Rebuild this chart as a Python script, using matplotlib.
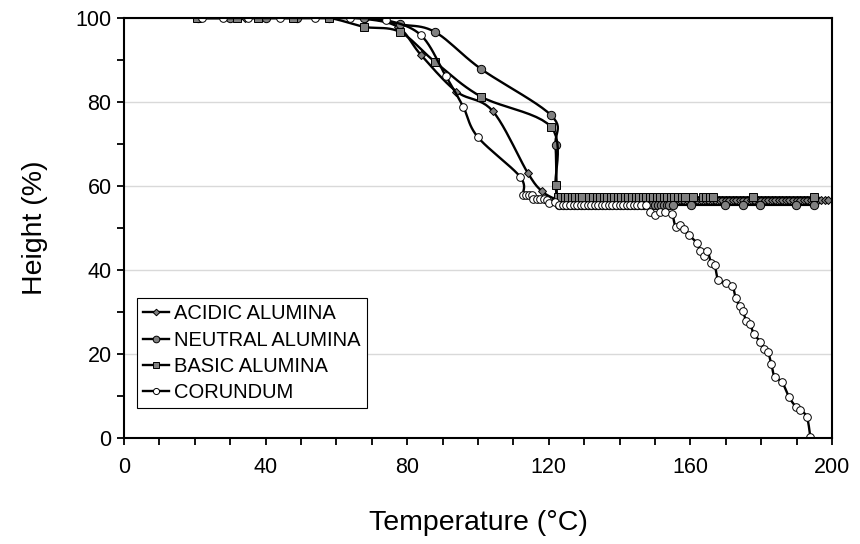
import matplotlib
matplotlib.use("Agg")
import matplotlib.pyplot as plt
from matplotlib.lines import Line2D
from matplotlib.ticker import MultipleLocator
import numpy as np

plt.rcParams['font.family'] = ['Liberation Sans', 'DejaVu Sans']

# acidic alumina (grey diamonds)
acidic_t = [20.5, 34.2, 48, 58, 68, 77.5, 83.9, 93.9, 104.1, 114.0, 118.0, 122.0,
            123, 124, 125, 126, 127, 128, 129, 130, 131, 132, 133, 134, 135, 136,
            137, 138, 139, 140, 141, 142, 143, 144, 145, 146, 147, 148, 149, 150,
            151, 152, 153, 154, 155, 156, 157, 158, 159, 160, 161, 162, 163, 164,
            165, 166, 167, 168, 169, 170, 171, 172, 173, 174, 175, 176, 177, 178,
            179, 180, 181, 182, 183, 184, 185, 186, 187, 188, 189, 190, 191, 192,
            193, 194, 195, 196, 197, 198, 199]
acidic_h = [100, 100, 100, 100, 99.8, 97.8, 91.2, 82.5, 77.9, 63.2, 58.8, 56.8] + [56.7] * 77

# neutral alumina (grey circles)
neutral_t = [21, 30, 40, 49, 58, 67.8, 77.9, 87.8, 100.8, 120.7, 121.9, 122.3,
             123, 124, 125, 126, 127, 128, 129, 130, 131, 132, 133, 134, 135, 136,
             137, 138, 139, 140, 141, 142, 143, 144, 145, 146, 147, 148.5, 149.3,
             150.1, 150.9, 151.7, 152.5, 153.3, 154.1, 155.0, 160.3, 169.9, 174.8,
             179.8, 189.9, 194.9]
neutral_h = [100, 100, 100, 100, 100, 100, 98.5, 96.7, 87.9, 76.8, 69.7, 57.0] + [55.5] * 40

# basic alumina (grey squares)
basic_t = [20.5, 31.8, 37.9, 47.8, 57.9, 67.8, 77.9, 87.8, 100.8, 120.7, 121.9,
           122.5, 123.5, 124.5, 125.5, 126.5, 127.5, 128.5, 129.5, 131.5, 132.5,
           133.5, 134.5, 135.5, 136.5, 137.5, 138.5, 139.5, 140.5, 141.5, 142.5,
           143.5, 144.5, 145.5, 146.5, 147.5, 148.5, 149.5, 150.5, 151.5, 152.5,
           153.5, 154.5, 155.5, 156.5, 157.5, 158.5, 160.7, 163.5, 164.5, 165.5,
           166.5, 177.7, 194.8]
basic_h = [100, 100, 100, 100, 100, 97.9, 96.7, 89.6, 81.3, 74.0, 60.2] + [57.3] * 43

# corundum (white circles)
corundum_t = [22, 28, 34.9, 44, 53.9, 63.8, 74, 83.9, 90.9, 95.8, 99.9, 111.9,
              112.7, 113.5, 114.3, 115.2, 115.6, 116.6, 117.6, 118.6, 119.5, 120.0,
              121.7, 123, 124, 125, 126, 127, 128, 129, 130, 131, 132, 133, 134,
              135, 136, 137, 138, 139, 140, 141, 142, 143, 144, 145, 146, 147.6,
              148.5, 149.9, 151.3, 152.9, 154.8, 155.8, 157.0, 158.2, 159.6, 161.9,
              162.8, 163.8, 164.8, 165.9, 166.9, 167.9, 170.0, 171.9, 172.8, 173.9,
              174.8, 175.8, 176.9, 177.9, 179.8, 180.8, 181.9, 182.9, 183.8, 185.9,
              187.9, 189.9, 190.9, 192.9, 193.9]
corundum_h = [100, 100, 100, 100, 100, 100, 99.5, 95.9, 86.2, 78.9, 71.7, 62.2,
              57.9, 57.9, 57.9, 57.9, 56.8, 56.8, 56.8, 56.8, 56.6, 56.0,
              56.3] + [55.5] * 25 + [
              53.7, 53.1, 53.7, 53.7, 53.3, 50.3, 50.7, 49.7, 48.3, 46.4,
              44.6, 43.3, 44.6, 41.6, 41.1, 37.5, 37.0, 36.2, 33.3, 31.4,
              30.2, 27.9, 27.1, 24.8, 22.9, 21.1, 20.5, 17.5, 14.6, 13.3,
              9.7, 7.3, 6.7, 5.0, 0.2]

series = [
    ('ACIDIC ALUMINA', acidic_t, acidic_h, 'D', 4.2, '#808080'),
    ('NEUTRAL ALUMINA', neutral_t, neutral_h, 'o', 6, '#808080'),
    ('BASIC ALUMINA', basic_t, basic_h, 's', 5.5, '#808080'),
    ('CORUNDUM', corundum_t, corundum_h, 'o', 5.5, 'white'),
]


def smooth(x, y, n=12):
    # spreadsheet-style smoothed line (bezier through the points)
    p = np.column_stack([x, y]).astype(float)
    p = np.vstack([p[0], p, p[-1]])
    out = []
    s = np.linspace(0, 1, n)[:, None]
    for i in range(1, len(p) - 2):
        p0, p1, p2, p3 = p[i - 1], p[i], p[i + 1], p[i + 2]
        c1 = p1 + (p2 - p0) / 6
        c2 = p2 - (p3 - p1) / 6
        seg = ((1 - s) ** 3) * p1 + 3 * ((1 - s) ** 2) * s * c1 + 3 * (1 - s) * s ** 2 * c2 + s ** 3 * p2
        out.append(seg)
    out = np.vstack(out)
    return out[:, 0], out[:, 1]


fig = plt.figure(figsize=(8.6, 5.44), dpi=100)
ax = fig.add_axes([0.1442, 0.1949, 0.8232, 0.772])

handles = []
for i, (name, t, h, mk, ms, fc) in enumerate(series):
    sx, sy = smooth(t, h)
    ax.plot(sx, sy, color='black', lw=1.7, zorder=2 + i)
    ax.plot(t, h, ls='none', marker=mk, ms=ms, mfc=fc, mec='black', mew=0.7, zorder=2 + i)
    handles.append(Line2D([], [], color='black', lw=1.7, marker=mk, ms=ms * 0.8,
                          mfc=fc, mec='black', mew=0.7, label=name))

ax.set_xlim(0, 200)
ax.set_ylim(0, 100)
ax.xaxis.set_major_locator(MultipleLocator(40))
ax.xaxis.set_minor_locator(MultipleLocator(10))
ax.yaxis.set_major_locator(MultipleLocator(20))
ax.yaxis.set_minor_locator(MultipleLocator(10))
ax.yaxis.grid(True, which='major', color='#d9d9d9', lw=1)
ax.set_axisbelow(True)
for s in ax.spines.values():
    s.set_linewidth(1.5)
    s.set_zorder(10)
ax.tick_params(which='both', direction='out', length=5, width=1.3, labelsize=15.5)
ax.tick_params(axis='x', which='major', pad=9)
ax.tick_params(axis='y', which='major', pad=4)

ax.set_xlabel('Temperature (°C)', fontsize=20.5, labelpad=23)
ax.set_ylabel('Height (%)', fontsize=20.5, labelpad=20)

leg = ax.legend(handles=handles, loc='lower left', bbox_to_anchor=(0.018, 0.071),
                fontsize=14.5, frameon=True, fancybox=False, framealpha=1,
                edgecolor='black', handlelength=1.3, handletextpad=0.25,
                labelspacing=0.36, borderpad=0.3, borderaxespad=0)
leg.get_frame().set_linewidth(0.8)
leg.set_zorder(20)

fig.savefig('out.png', dpi=100)
